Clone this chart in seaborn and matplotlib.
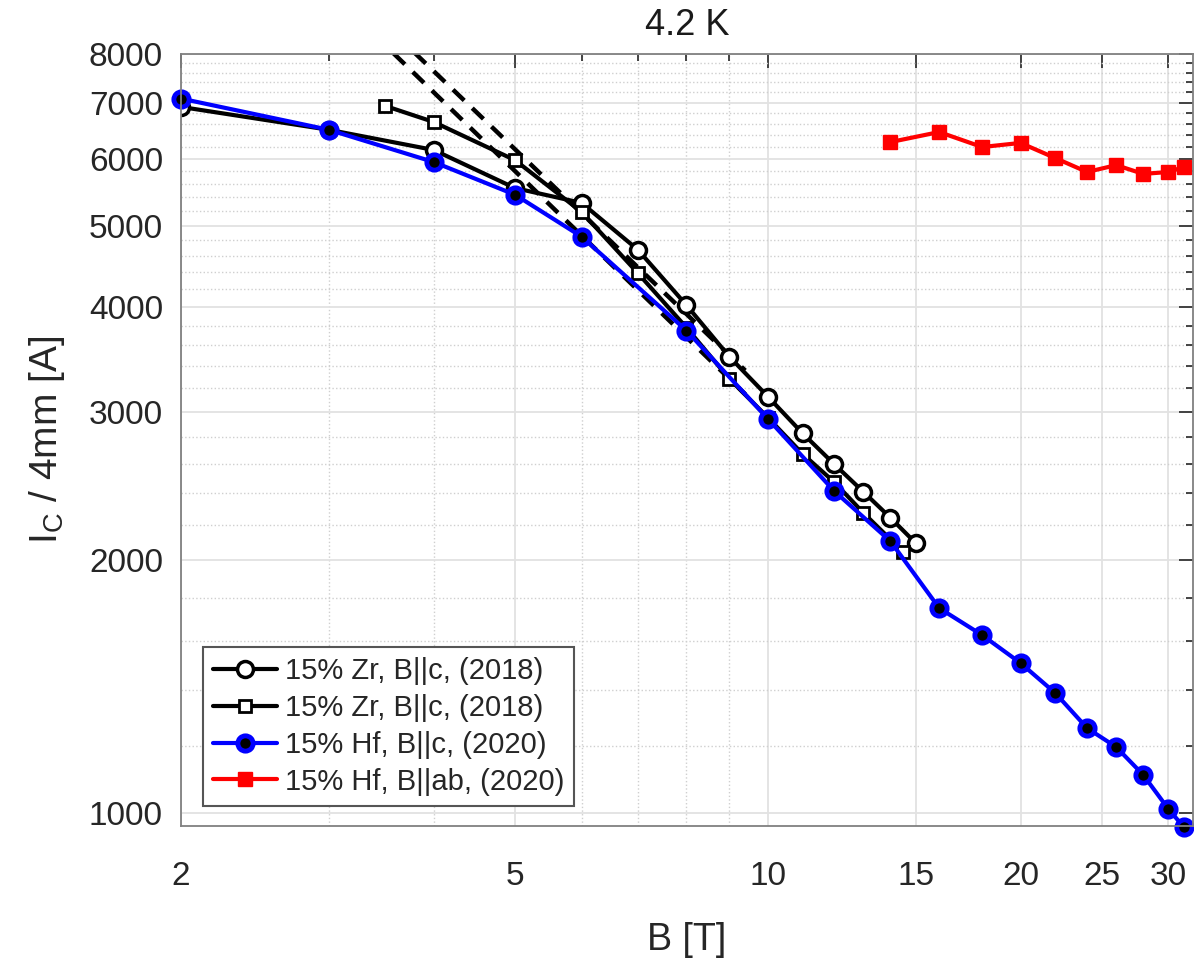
import numpy as np
import pandas as pd
import seaborn as sns
import matplotlib.pyplot as plt
from matplotlib.ticker import FixedLocator, NullFormatter, FixedFormatter

# 15% Zr, B||c (2018), open circles
b_zr_circ = [2, 3, 4, 5, 6, 7, 8, 9, 10, 11, 12, 13, 14, 15]
ic_zr_circ = [6920, 6500, 6150, 5540, 5320, 4680, 4020, 3490, 3130, 2830, 2600, 2410, 2245, 2095]

# 15% Zr, B||c (2018), open squares
b_zr_sq = [3.5, 4, 5, 6, 7, 8, 9, 10, 11, 12, 13, 14.5]
ic_zr_sq = [6940, 6640, 5980, 5190, 4390, 3780, 3285, 2955, 2675, 2475, 2275, 2045]

# 15% Hf, B||c (2020)
b_hf_c = [2, 3, 4, 5, 6, 8, 10, 12, 14, 16, 18, 20, 22, 24, 26, 28, 30, 31.3]
ic_hf_c = [7080, 6500, 5950, 5440, 4850, 3750, 2945, 2415, 2105, 1753, 1628, 1508, 1389, 1262, 1198, 1110, 1011, 962]

# 15% Hf, B||ab (2020)
b_hf_ab = [14, 16, 18, 20, 22, 24, 26, 28, 30, 31.3]
ic_hf_ab = [6285, 6460, 6200, 6270, 6015, 5790, 5900, 5760, 5790, 5870]

# dashed power-law guides
b_fit1 = [3.4, 9.4]
ic_fit1 = [8430, 3150]
b_fit2 = [3.6, 9.4]
ic_fit2 = [8445, 3361]

x_major = [2, 5, 10, 15, 20, 25, 30]
x_minor = [3, 4, 6, 7, 8, 9]
y_major = [1000, 2000, 3000, 4000, 5000, 6000, 7000, 8000]
y_minor = [v for v in range(1000, 8001, 200) if v % 1000 != 0]

sns.set_style("white")
plt.rcParams['font.family'] = ['Liberation Sans', 'DejaVu Sans']
plt.rcParams['mathtext.fontset'] = 'custom'
plt.rcParams['mathtext.rm'] = 'Liberation Sans'

fig = plt.figure(figsize=(11.94, 9.59), dpi=100)
ax = fig.add_axes([0.1516, 0.1387, 0.8476, 0.805])

sns.lineplot(x=b_fit1, y=ic_fit1, ax=ax, color='k', lw=3.2, ls=(0, (3.5, 2.5)))
sns.lineplot(x=b_fit2, y=ic_fit2, ax=ax, color='k', lw=3.2, ls=(0, (3.5, 2.5)))

sns.lineplot(x=b_zr_circ, y=ic_zr_circ, ax=ax, color='k', lw=3, marker='o',
             markersize=11.5, markerfacecolor='white', markeredgecolor='k',
             markeredgewidth=2.5, label='15% Zr, B||c, (2018)')
sns.lineplot(x=b_zr_sq, y=ic_zr_sq, ax=ax, color='k', lw=3, marker='s',
             markersize=8.5, markerfacecolor='white', markeredgecolor='k',
             markeredgewidth=2, label='15% Zr, B||c, (2018)')
sns.lineplot(x=b_hf_c, y=ic_hf_c, ax=ax, color='#0000ff', lw=3, marker='o',
             markersize=11, markerfacecolor='k', markeredgecolor='#0000ff',
             markeredgewidth=3.5, label='15% Hf, B||c, (2020)', clip_on=False)
sns.lineplot(x=b_hf_ab, y=ic_hf_ab, ax=ax, color='#ff0000', lw=3, marker='s',
             markersize=10, markerfacecolor='#ff0000', markeredgecolor='#ff0000',
             markeredgewidth=1, label='15% Hf, B||ab, (2020)', clip_on=False)

ax.set_xscale('log')
ax.set_yscale('log')
ax.set_xlim(2, 32.1)
ax.set_ylim(965, 8000)

ax.xaxis.set_major_locator(FixedLocator(x_major))
ax.xaxis.set_major_formatter(FixedFormatter([str(v) for v in x_major]))
ax.xaxis.set_minor_locator(FixedLocator(x_minor))
ax.xaxis.set_minor_formatter(NullFormatter())
ax.yaxis.set_major_locator(FixedLocator(y_major))
ax.yaxis.set_major_formatter(FixedFormatter([str(v) for v in y_major]))
ax.yaxis.set_minor_locator(FixedLocator(y_minor))
ax.yaxis.set_minor_formatter(NullFormatter())

ax.set_axisbelow(True)
ax.grid(which='major', color='#e2e2e2', lw=1.3, ls='-')
ax.grid(which='minor', color='#cfcfcf', lw=1.0, ls=':')

ax.tick_params(which='both', direction='in', top=True, right=True, colors='#262626',
               labelsize=24)
ax.tick_params(which='major', length=10, width=1.2)
ax.tick_params(which='minor', length=5, width=1.2)
ax.tick_params(axis='x', which='major', pad=25)
ax.tick_params(axis='y', which='major', pad=13)
for s in ax.spines.values():
    s.set_color('#808080')
    s.set_linewidth(1.3)

ax.set_title('4.2 K', fontsize=26, pad=14, color='#1a1a1a')
ax.set_xlabel('B [T]', fontsize=27, labelpad=22, color='#262626')
ax.set_ylabel(r'I$_\mathregular{C}$ / 4mm [A]', fontsize=28, labelpad=16, color='#262626')

leg = ax.legend(loc='lower left', bbox_to_anchor=(0.0217, 0.026), borderaxespad=0,
                fontsize=21, handlelength=2.2, handletextpad=0.25, labelspacing=0.3,
                borderpad=0.35, fancybox=False, framealpha=1, edgecolor='#555555')
leg.get_frame().set_linewidth(1.5)

fig.savefig('out.png', dpi=100)
